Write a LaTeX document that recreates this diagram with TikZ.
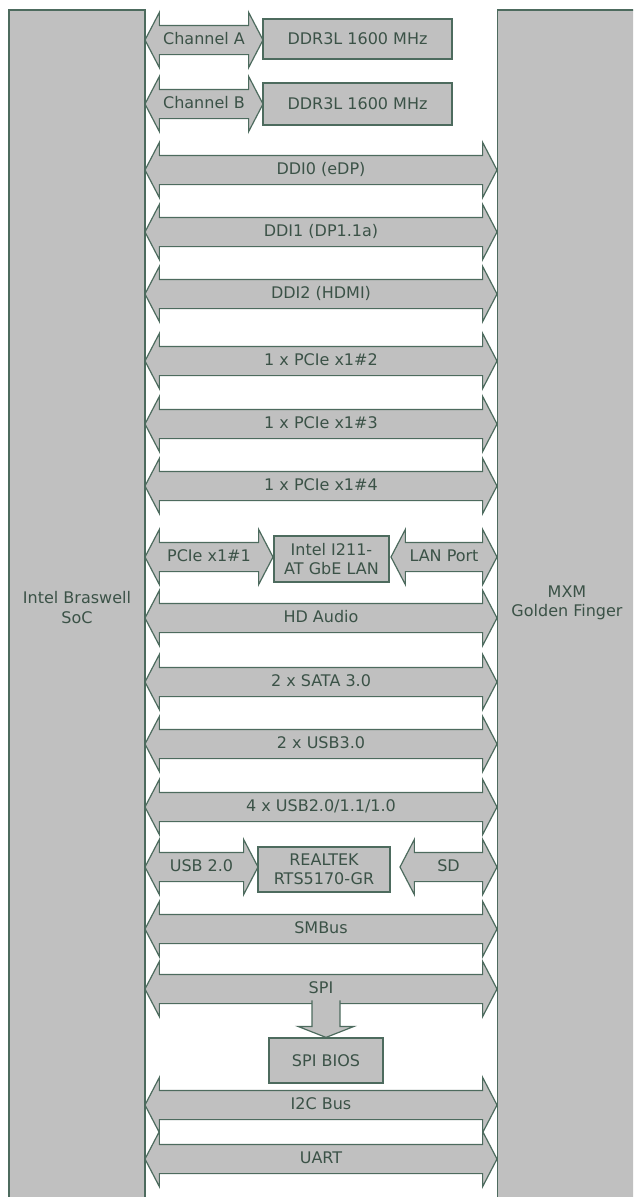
\documentclass[tikz,border=0pt]{standalone}
\usepackage{fontspec}
\setmainfont{DejaVu Sans}
\usetikzlibrary{shapes.arrows, positioning, calc}
\definecolor{boardgray}{HTML}{C0C0C0}
\definecolor{boardedge}{HTML}{4D6B5E}
\definecolor{boardtext}{HTML}{3B5247}

\tikzset{
  lbl/.style={text=boardtext, font=\fontsize{16}{19.5}\selectfont, align=center},
  block/.style={lbl, draw=boardedge, fill=boardgray, line width=1.2pt, inner sep=0pt},
  bus/.style={lbl, double arrow, draw=boardedge, fill=boardgray, line width=1.2pt,
    double arrow head extend=13pt, double arrow tip angle=125,
    inner xsep=0pt, inner ysep=7pt, text height=11pt, text depth=3pt,
    minimum height=#1},
  bus/.default=352pt,
  shaftedge/.style={draw=boardedge, fill=boardgray, line width=1.2pt},
}

\begin{document}
\begin{tikzpicture}[x=1pt, y=-1pt]
  \useasboundingbox (0,0) rectangle (633,1197);
  \clip (0,0) rectangle (633,1197);
  % SoC and MXM edge
  \node[block, minimum width=136pt, minimum height=1195pt] (soc) at (77,607.5) {Intel Braswell\\SoC};
  \node[block, anchor=west, minimum width=160pt, minimum height=1195pt] (mxm) at (497,607.5) {};
  \node[lbl] (mxmlabel) at (567,603) {MXM\\Golden Finger};
  % Memory
  \node[bus=118pt] (chana) at (204,40) {Channel A};
  \node[block, minimum width=189pt, minimum height=40pt] (ddra) at (357.5,39) {DDR3L 1600 MHz};
  \node[bus=118pt] (chanb) at (204,104) {Channel B};
  \node[block, minimum width=189pt, minimum height=42pt] (ddrb) at (357.5,104) {DDR3L 1600 MHz};
  % Display
  \node[bus] (ddi0) at (321,170) {DDI0 (eDP)};
  \node[bus] (ddi1) at (321,232) {DDI1 (DP1.1a)};
  \node[bus] (ddi2) at (321,294) {DDI2 (HDMI)};
  % PCIe
  \node[bus] (pcie2) at (321,361) {1 x PCIe x1\#2};
  \node[bus] (pcie3) at (321,424) {1 x PCIe x1\#3};
  \node[bus] (pcie4) at (321,486) {1 x PCIe x1\#4};
  % LAN
  \node[bus=128pt] (pcie1) at (209,557) {PCIe x1\#1};
  \node[block, minimum width=115pt, minimum height=46pt] (lan) at (331.5,559) {Intel I211-\\AT GbE LAN};
  \node[bus=106pt] (lanport) at (444,557) {LAN Port};
  % Audio, storage, USB
  \node[bus] (hda) at (321,618) {HD Audio};
  \node[bus] (sata) at (321,682) {2 x SATA 3.0};
  \node[bus] (usb3) at (321,744) {2 x USB3.0};
  \node[bus] (usb2) at (321,807) {4 x USB2.0/1.1/1.0};
  % Card reader
  \node[bus=113pt] (usbrt) at (201.5,867) {USB 2.0};
  \node[block, minimum width=132pt, minimum height=45pt] (realtek) at (324,869.5) {REALTEK\\RTS5170-GR};
  \node[bus=97pt] (sd) at (448.5,867) {SD};
  % Misc buses
  \node[bus] (smbus) at (321,929) {SMBus};
  \node[bus] (spi) at (321,989) {SPI};
  \node[block, minimum width=114pt, minimum height=45pt] (bios) at (326,1060.5) {SPI BIOS};
  \draw[shaftedge] ($(bios.north)+(-14,-37)$) -- ++(0,26) -- ++(-14,0) -- (bios.north)
    -- ++(28,-11) -- ++(-14,0) -- ++(0,-26);
  \node[bus] (i2c) at (321,1105) {I2C Bus};
  \node[bus] (uart) at (321,1159) {UART};
\end{tikzpicture}
\end{document}
